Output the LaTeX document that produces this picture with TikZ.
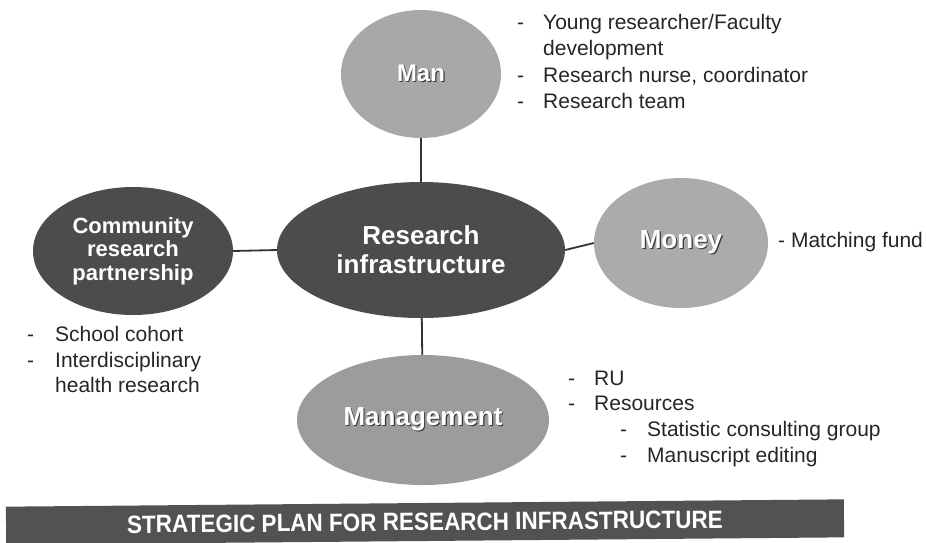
\documentclass[tikz,border=0pt]{standalone}
\usepackage{fontspec}
\setmainfont{Liberation Sans}
\usetikzlibrary{shapes.geometric}
\definecolor{darkfill}{HTML}{4C4C4C}
\definecolor{manfill}{HTML}{A8A8A8}
\definecolor{moneyfill}{HTML}{ABABAB}
\definecolor{mgmtfill}{HTML}{9C9C9C}
\definecolor{bannerfill}{HTML}{525252}
\definecolor{txt}{HTML}{262626}
\definecolor{linecol}{HTML}{333333}
\definecolor{shadowcol}{HTML}{3A3A3A}
\newcommand{\shd}[1]{\leavevmode\rlap{\kern1.2pt\raisebox{-1.2pt}{\textcolor{shadowcol}{#1}}}#1}
\tikzset{
  blob/.style={ellipse, inner sep=0pt, text=white, align=center, font=\bfseries},
  link/.style={draw=linecol, line width=1.8pt},
  item/.style={anchor=base west, inner sep=0pt, text=txt, font=\fontsize{21}{25}\selectfont},
  banner/.style={fill=bannerfill, inner sep=0pt, text=white}
}
\begin{document}
\begin{tikzpicture}[x=1pt,y=-1pt]
\useasboundingbox (0,0) rectangle (926,542);
\fill[white] (0,0) rectangle (926,542);
% ellipses
\node[blob, fill=manfill, minimum width=160, minimum height=128, font=\bfseries\fontsize{24}{28}\selectfont] (man) at (421,74) {\shd{Man}};
\node[blob, fill=darkfill, minimum width=288, minimum height=136, font=\bfseries\fontsize{26}{29}\selectfont] (ri) at (421,250) {Research\\infrastructure};
\node[blob, fill=darkfill, minimum width=200, minimum height=128, font=\bfseries\fontsize{22}{23.5}\selectfont] (comm) at (133,251) {Community\\research\\partnership};
\node[blob, fill=moneyfill, minimum width=174, minimum height=130, font=\bfseries\fontsize{26}{30}\selectfont] (money) at (681,243) {\shd{Money}};
\node[blob, fill=mgmtfill, minimum width=252, minimum height=130, font=\bfseries\fontsize{26}{30}\selectfont] (mgmt) at (423,420) {\shd{Management}};
% connectors
\draw[link] (man) -- (ri);
\draw[link] (ri) -- (mgmt);
\draw[link] (comm.east) -- (ri.west);
\draw[link] (ri.east) -- (money.west);
% Man list
\node[item] (m1d) at (517,29) {-};
\node[item] (m1) at (543,29) {Young researcher/Faculty};
\node[item] (m1b) at (543,55) {development};
\node[item] (m2d) at (517,82) {-};
\node[item] (m2) at (543,82) {Research nurse, coordinator};
\node[item] (m3d) at (517,108) {-};
\node[item] (m3) at (543,108) {Research team};
% Money list
\node[item] (mo1) at (778,247) {- Matching fund};
% Community list
\node[item] (c1d) at (27,341) {-};
\node[item] (c1) at (55,341) {School cohort};
\node[item] (c2d) at (27,367) {-};
\node[item] (c2) at (55,367) {Interdisciplinary};
\node[item] (c2b) at (55,392) {health research};
% Management list
\node[item] (g1d) at (568,385) {-};
\node[item] (g1) at (594,385) {RU};
\node[item] (g2d) at (568,410) {-};
\node[item] (g2) at (594,410) {Resources};
\node[item] (g3d) at (620,436) {-};
\node[item] (g3) at (647,436) {Statistic consulting group};
\node[item] (g4d) at (620,462) {-};
\node[item] (g4) at (647,462) {Manuscript editing};
% banner
\node[banner, minimum width=838, minimum height=38, rotate=0.5] (ban) at (425,522)
  {\scalebox{0.9}[1]{\bfseries\fontsize{25}{29}\selectfont STRATEGIC PLAN FOR RESEARCH INFRASTRUCTURE}};
\end{tikzpicture}
\end{document}
